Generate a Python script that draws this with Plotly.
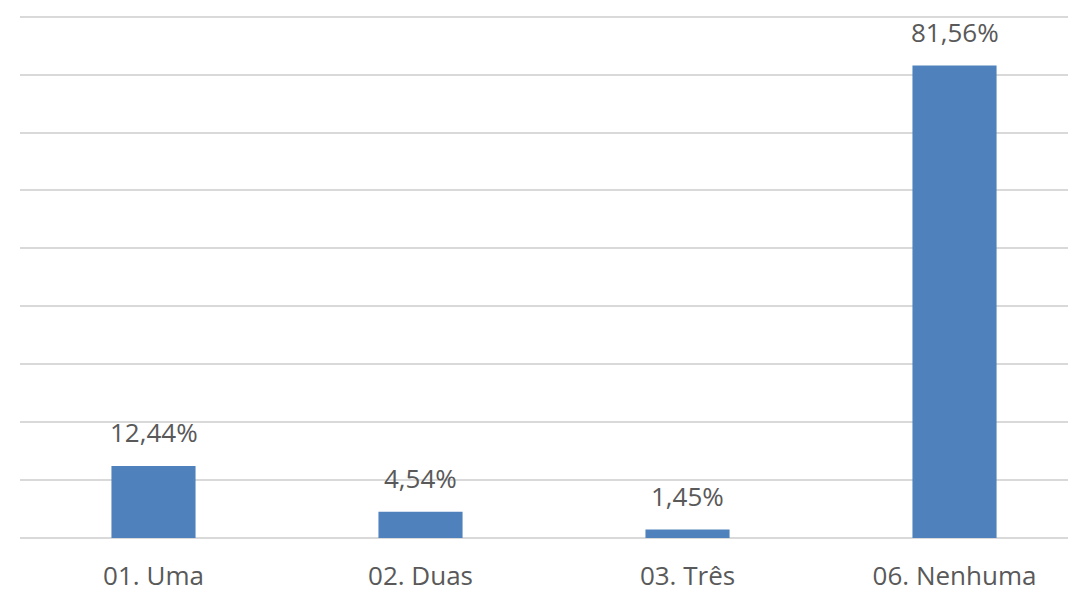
import plotly.graph_objects as go

categorias = ["01. Uma", "02. Duas", "03. Três", "06. Nenhuma"]
valores = [12.44, 4.54, 1.45, 81.56]
rotulos = [f"{v:.2f}%".replace(".", ",") for v in valores]

fig = go.Figure()
fig.add_trace(go.Bar(
    x=categorias, y=valores,
    marker=dict(color="#4F81BD", line=dict(width=0)),
    width=0.315,
))

# rotulos acima das barras
for cat, v, txt in zip(categorias, valores, rotulos):
    fig.add_annotation(
        x=cat, y=v, text=txt, showarrow=False,
        yanchor="bottom", yshift=14,
        font=dict(family="Open Sans", size=26, color="#595959"),
    )

fig.update_layout(
    width=1068, height=601,
    plot_bgcolor="white", paper_bgcolor="white",
    margin=dict(l=12, r=0, t=7, b=71),
    showlegend=False,
    xaxis=dict(
        range=[-0.5, 3.455], showgrid=False, showline=False,
        tickfont=dict(family="Open Sans", size=26, color="#595959"),
        ticks="", ticklabelstandoff=20, automargin=False,
    ),
    yaxis=dict(
        range=[0, 90.3], dtick=10, showgrid=True, gridcolor="#D9D9D9", gridwidth=1.5,
        zeroline=True, zerolinecolor="#D9D9D9", zerolinewidth=1.5,
        showticklabels=False, ticks="", automargin=False,
    ),
)

fig.write_html("out.html")
